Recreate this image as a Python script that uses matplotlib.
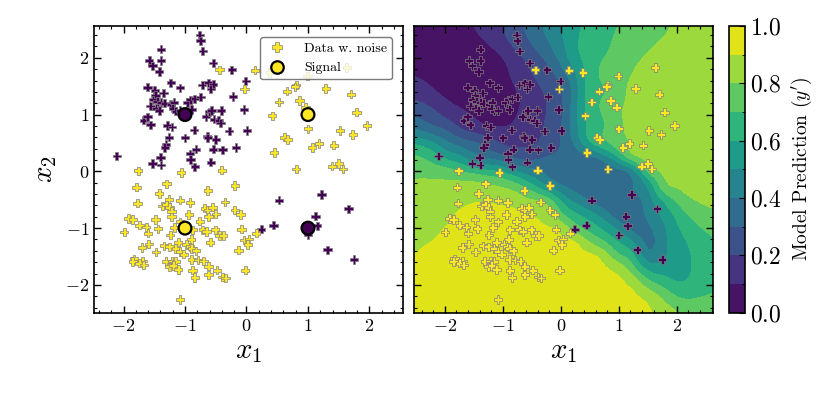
import numpy as np
import matplotlib
matplotlib.use('Agg')
import matplotlib.pyplot as plt
import matplotlib.tri as mtri
from matplotlib.lines import Line2D

plt.rcParams['font.family'] = 'serif'
plt.rcParams['font.serif'] = ['cmr10']
plt.rcParams['mathtext.fontset'] = 'cm'
plt.rcParams['axes.formatter.use_mathtext'] = True
plt.rcParams['axes.unicode_minus'] = True

# noisy data, class 0 (purple)
x0 = [-0.76, -0.75, -1.39, -0.71, -1.58, -1.39, -1.53, -1.42, -0.54, -0.24, -0.01, -1.23,
      -0.72, -0.62, -0.54, -0.58, -1.61, -1.49, -1.08, -0.22, -0.04, 0.01, -1.48, -1.35,
      -1.52, -1.45, -1.39, -1.33, -1.23, -1.18, -1.56, -1.47, -1.42, -1.20, -1.15, -1.08,
      -0.96, -0.91, -0.84, -0.75, -0.89, -0.66, -0.60, -0.57, -0.41, -0.53, -0.45, -0.42,
      -0.28, -1.67, -1.61, -1.56, -1.29, -1.21, -0.85, -1.26, -1.00, -0.64, -0.63, -0.50,
      -1.31, -1.33, -0.82, -0.54, -0.39, -0.17, -0.92, -0.91, -2.11, -1.40, -1.53, -1.39,
      -0.84, -0.58, 0.53, 1.22, 1.66, 1.12, 1.15, 1.00, 0.44, 0.24, 1.32, 1.75]
y0 = [2.40, 2.30, 2.15, 2.12, 1.95, 1.95, 1.86, 1.76, 1.91, 1.79, 1.59, 1.56,
      1.52, 1.56, 1.53, 1.45, 1.48, 1.43, 1.47, 1.32, 1.09, 0.72, 1.34, 1.38,
      1.26, 1.23, 1.21, 1.20, 1.18, 1.21, 1.15, 1.11, 1.07, 1.11, 1.06, 1.07,
      1.21, 1.26, 1.28, 1.31, 1.09, 0.96, 1.05, 1.07, 1.07, 0.92, 0.90, 0.85,
      0.71, 0.90, 0.96, 0.82, 0.81, 0.78, 0.73, 0.60, 0.59, 0.62, 0.59, 0.56,
      0.47, 0.42, 0.39, 0.39, 0.38, 0.42, 0.31, 0.21, 0.27, 0.25, 0.14, 0.11,
      0.08, 0.16, -0.51, -0.41, -0.66, -0.79, -0.96, -1.12, -0.95, -1.02, -1.38, -1.55]

# noisy data, class 1 (yellow)
x1 = [0.14, 0.38, 1.63, -0.03, 0.99, 0.81, 0.79, 0.66, 1.29, 1.70, 0.53, 0.86, 0.96, 0.42,
      1.79, 1.00, 1.96, 1.52, 1.73, 0.62, 0.67, 1.18, 1.07, 1.42, 0.45, 1.39, 1.50, 1.57,
      0.81, -0.44,
      -1.76, -1.06, -0.40, -1.79, -1.30, -0.19, -1.42, -0.63, -1.77, -1.26, -1.08, -0.92,
      -0.35, -1.37, -1.30, -1.25, -1.22, -0.68, -0.63, -0.55, -0.94, -0.50, -0.19, -0.10,
      -1.22, -0.62, -1.92, -1.85, -1.48, -0.76, -1.08, -1.74, -1.63, -1.44, -1.17, -0.88,
      -0.71, -0.65, -0.51, -0.08, -1.99, -1.60, -1.24, -0.44, -0.38, -0.90, -0.59, -0.04,
      0.04, 0.02, 0.16, -1.11, -1.59, -1.34, -1.25, -0.98, -0.92, -1.70, -1.15, -1.08,
      -0.89, -0.82, -1.47, -1.02, -0.13, -1.83, -1.85, -1.69, -1.74, -1.67, -1.31, -1.21,
      -1.15, -0.89, -0.79, -0.70, -1.25, -1.19, -0.62, -1.11, -0.88, -0.48, -0.02, -0.62,
      -0.84, -0.39, -0.34, -1.08]
y1 = [1.78, 1.74, 1.83, 1.45, 1.68, 1.52, 1.49, 1.41, 1.46, 1.36, 1.22, 1.25, 1.13, 0.98,
      1.04, 0.75, 0.81, 0.72, 0.65, 0.60, 0.56, 0.49, 0.42, 0.46, 0.33, 0.09, 0.14, 0.04,
      0.04, 1.79,
      0.01, -0.02, 0.02, -0.28, -0.22, -0.25, -0.39, -0.34, -0.56, -0.49, -0.51, -0.55,
      -0.54, -0.61, -0.59, -0.63, -0.71, -0.65, -0.68, -0.63, -0.76, -0.75, -0.68, -0.76,
      -0.80, -0.80, -0.83, -0.85, -0.85, -0.88, -0.89, -0.95, -0.98, -1.01, -0.99, -1.03,
      -1.03, -1.06, -1.03, -1.02, -1.07, -1.09, -1.12, -1.13, -1.13, -1.20, -1.25, -1.21,
      -1.19, -1.29, -1.09, -1.25, -1.28, -1.31, -1.33, -1.29, -1.33, -1.34, -1.36, -1.41,
      -1.36, -1.40, -1.42, -1.46, -1.39, -1.54, -1.59, -1.58, -1.62, -1.65, -1.59, -1.58,
      -1.59, -1.55, -1.56, -1.58, -1.68, -1.66, -1.67, -1.73, -1.74, -1.74, -1.74, -1.82,
      -1.87, -1.86, -1.88, -2.26]

# noise-free signal
sig_x = [-1, 1, -1, 1]
sig_y = [1, 1, -1, -1]
sig_lab = [0, 1, 1, 0]

# model prediction on a 0.25 grid (rows top to bottom)
grid_x = [-2.6, -2.25, -2.0, -1.75, -1.5, -1.25, -1.0, -0.75, -0.5, -0.25, 0.0,
          0.25, 0.5, 0.75, 1.0, 1.25, 1.5, 1.75, 2.0, 2.25, 2.65]
grid_y = [2.6, 2.25, 2.0, 1.75, 1.5, 1.25, 1.0, 0.75, 0.5, 0.25, 0.0,
          -0.25, -0.5, -0.75, -1.0, -1.25, -1.5, -1.75, -2.0, -2.25, -2.55]
pred = [
    [0.02, 0.03, 0.05, 0.07, 0.10, 0.15, 0.20, 0.27, 0.34, 0.42, 0.50, 0.57, 0.62, 0.66, 0.70, 0.73, 0.76, 0.78, 0.81, 0.83, 0.84],
    [0.03, 0.03, 0.04, 0.05, 0.07, 0.10, 0.16, 0.23, 0.30, 0.38, 0.47, 0.58, 0.64, 0.68, 0.72, 0.75, 0.78, 0.81, 0.83, 0.85, 0.86],
    [0.05, 0.04, 0.03, 0.03, 0.04, 0.06, 0.10, 0.17, 0.24, 0.32, 0.43, 0.56, 0.64, 0.70, 0.74, 0.78, 0.81, 0.84, 0.85, 0.86, 0.87],
    [0.09, 0.06, 0.04, 0.03, 0.03, 0.04, 0.08, 0.13, 0.20, 0.26, 0.36, 0.50, 0.64, 0.72, 0.76, 0.80, 0.83, 0.85, 0.86, 0.87, 0.87],
    [0.15, 0.10, 0.06, 0.04, 0.03, 0.03, 0.06, 0.11, 0.17, 0.22, 0.30, 0.46, 0.64, 0.70, 0.76, 0.82, 0.85, 0.86, 0.87, 0.87, 0.87],
    [0.21, 0.16, 0.11, 0.07, 0.04, 0.03, 0.05, 0.09, 0.15, 0.20, 0.28, 0.46, 0.64, 0.71, 0.77, 0.83, 0.86, 0.87, 0.87, 0.87, 0.87],
    [0.30, 0.24, 0.18, 0.13, 0.09, 0.06, 0.06, 0.10, 0.15, 0.20, 0.28, 0.47, 0.63, 0.71, 0.78, 0.84, 0.86, 0.87, 0.87, 0.87, 0.87],
    [0.40, 0.34, 0.29, 0.21, 0.16, 0.12, 0.11, 0.13, 0.17, 0.21, 0.30, 0.46, 0.63, 0.70, 0.77, 0.84, 0.86, 0.87, 0.87, 0.87, 0.87],
    [0.59, 0.52, 0.43, 0.36, 0.31, 0.25, 0.19, 0.18, 0.19, 0.23, 0.30, 0.42, 0.58, 0.67, 0.75, 0.82, 0.85, 0.87, 0.87, 0.87, 0.87],
    [0.72, 0.66, 0.58, 0.52, 0.44, 0.38, 0.33, 0.28, 0.27, 0.30, 0.32, 0.34, 0.38, 0.46, 0.60, 0.76, 0.83, 0.86, 0.87, 0.87, 0.87],
    [0.78, 0.76, 0.74, 0.70, 0.66, 0.62, 0.58, 0.50, 0.43, 0.38, 0.34, 0.32, 0.32, 0.34, 0.37, 0.47, 0.70, 0.81, 0.85, 0.86, 0.87],
    [0.81, 0.82, 0.82, 0.83, 0.83, 0.81, 0.78, 0.72, 0.62, 0.50, 0.41, 0.36, 0.33, 0.32, 0.33, 0.40, 0.52, 0.74, 0.81, 0.84, 0.86],
    [0.83, 0.84, 0.85, 0.87, 0.89, 0.89, 0.88, 0.85, 0.80, 0.74, 0.58, 0.46, 0.39, 0.33, 0.32, 0.35, 0.45, 0.60, 0.72, 0.79, 0.83],
    [0.85, 0.86, 0.87, 0.91, 0.93, 0.93, 0.92, 0.91, 0.89, 0.85, 0.72, 0.61, 0.53, 0.44, 0.34, 0.33, 0.42, 0.52, 0.63, 0.72, 0.78],
    [0.86, 0.88, 0.90, 0.93, 0.95, 0.95, 0.95, 0.94, 0.93, 0.91, 0.86, 0.75, 0.66, 0.57, 0.47, 0.37, 0.38, 0.47, 0.58, 0.66, 0.73],
    [0.88, 0.90, 0.92, 0.95, 0.96, 0.96, 0.96, 0.96, 0.95, 0.94, 0.92, 0.90, 0.80, 0.71, 0.60, 0.50, 0.38, 0.46, 0.55, 0.62, 0.69],
    [0.90, 0.92, 0.94, 0.96, 0.97, 0.97, 0.97, 0.97, 0.96, 0.96, 0.95, 0.93, 0.92, 0.85, 0.73, 0.62, 0.45, 0.48, 0.54, 0.60, 0.67],
    [0.92, 0.94, 0.95, 0.97, 0.97, 0.97, 0.97, 0.97, 0.97, 0.97, 0.96, 0.95, 0.95, 0.92, 0.87, 0.75, 0.60, 0.56, 0.56, 0.60, 0.66],
    [0.93, 0.95, 0.96, 0.97, 0.97, 0.97, 0.97, 0.97, 0.97, 0.97, 0.97, 0.96, 0.96, 0.95, 0.92, 0.87, 0.76, 0.68, 0.62, 0.63, 0.68],
    [0.94, 0.96, 0.97, 0.97, 0.97, 0.97, 0.97, 0.97, 0.97, 0.97, 0.97, 0.97, 0.96, 0.96, 0.94, 0.92, 0.88, 0.80, 0.72, 0.70, 0.72],
    [0.95, 0.96, 0.97, 0.97, 0.97, 0.97, 0.97, 0.97, 0.97, 0.97, 0.97, 0.97, 0.96, 0.96, 0.95, 0.93, 0.91, 0.88, 0.82, 0.77, 0.76],
]

fig = plt.figure(figsize=(8.31, 3.97), dpi=100)
ax1 = fig.add_axes([0.1131, 0.2123, 0.3722, 0.7222])
ax2 = fig.add_axes([0.4982, 0.2123, 0.3594, 0.7222])
cax = fig.add_axes([0.8773, 0.2123, 0.0193, 0.7222])

xs = np.array(x0 + x1)
ys = np.array(y0 + y1)
lab = np.array([0] * len(x0) + [1] * len(x1))
yel = plt.cm.viridis(1.0)

# left: data and signal
ax1.scatter(xs, ys, c=lab, cmap='viridis', vmin=0, vmax=1, marker='P', s=36,
            edgecolors='gray', linewidths=0.5)
ax1.scatter(sig_x, sig_y, c=sig_lab, cmap='viridis', vmin=0, vmax=1, marker='o', s=85,
            edgecolors='k', linewidths=1.6)
handles = [
    Line2D([], [], ls='none', marker='P', ms=7, mfc=yel, mec='gray', mew=0.5),
    Line2D([], [], ls='none', marker='o', ms=9, mfc=yel, mec='k', mew=1.6),
]
ax1.legend(handles, ['Data w. noise', 'Signal'], loc='upper right', fontsize=10,
           frameon=True, fancybox=True, edgecolor='0.35', framealpha=0.8,
           borderpad=0.35, handletextpad=1.0, handlelength=1.8,
           bbox_to_anchor=(0.985, 0.985))
ax1.set_xlim(-2.48, 2.55)
ax1.set_ylim(-2.49, 2.56)
ax1.set_xlabel('$x_1$', fontsize=21)
ax1.set_ylabel('$x_2$', fontsize=21)

# right: model prediction
gx, gy = np.meshgrid(grid_x, grid_y)
tri = mtri.Triangulation(gx.ravel(), gy.ravel())
refiner = mtri.UniformTriRefiner(tri)
tri_f, z_f = refiner.refine_field(np.array(pred).ravel(), subdiv=3)
z_f = np.clip(z_f, 0.001, 0.999)
cs = ax2.tricontourf(tri_f, z_f, levels=np.linspace(0, 1, 11), cmap='viridis')
ax2.scatter(xs, ys, c=lab, cmap='viridis', vmin=0, vmax=1, marker='P', s=36,
            edgecolors='gray', linewidths=0.5)
ax2.set_xlim(-2.53, 2.62)
ax2.set_ylim(-2.49, 2.56)
ax2.set_xlabel('$x_1$', fontsize=21)
ax2.set_yticklabels([])

cb = fig.colorbar(cs, cax=cax)
cb.set_ticks([0, 0.2, 0.4, 0.6, 0.8, 1.0])
cb.ax.yaxis.set_minor_locator(matplotlib.ticker.MultipleLocator(0.1))
cb.ax.tick_params(which='both', direction='in', labelsize=17)
cb.ax.tick_params(which='major', length=4)
cb.ax.tick_params(which='minor', length=2)
cb.set_label("Model Prediction ($y'$)", fontsize=14, labelpad=6)
cb.outline.set_linewidth(1.2)

for ax in (ax1, ax2):
    ax.xaxis.set_major_locator(matplotlib.ticker.MultipleLocator(1))
    ax.yaxis.set_major_locator(matplotlib.ticker.MultipleLocator(1))
    ax.xaxis.set_minor_locator(matplotlib.ticker.MultipleLocator(0.2))
    ax.yaxis.set_minor_locator(matplotlib.ticker.MultipleLocator(0.2))
    ax.tick_params(which='both', direction='in', top=True, right=True, labelsize=13)
    ax.tick_params(which='major', length=5, width=1)
    ax.tick_params(which='minor', length=2.5, width=0.8)
    for sp in ax.spines.values():
        sp.set_linewidth(1.2)

fig.savefig('out.png', dpi=100)
